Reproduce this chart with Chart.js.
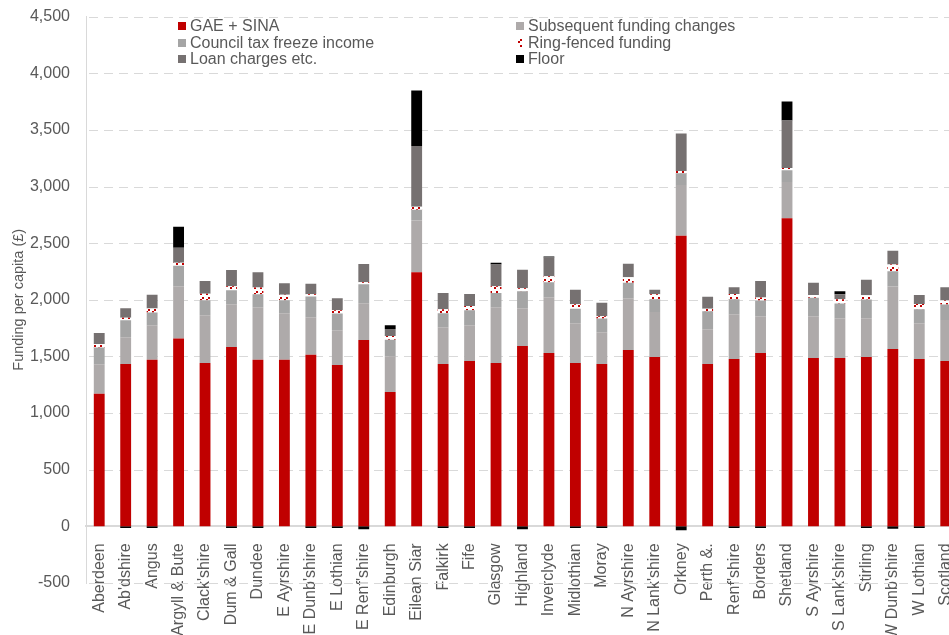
<!DOCTYPE html>
<html>
<head>
<meta charset="utf-8">
<title>Funding per capita</title>
<script src="https://cdn.jsdelivr.net/npm/chart.js@4.4.1/dist/chart.umd.min.js"></script>
<style>
    html, body { margin: 0; padding: 0; background: #fff; overflow: hidden; }
    #wrap { position: relative; width: 974px; height: 635px; overflow: hidden; }
    #fundingChart { position: absolute; left: 0; top: -9px; }
    #legend {
        position: absolute; left: 178px; top: 18px;
        display: grid; grid-template-columns: 338px auto;
        font: 16px "Liberation Sans", Arial, sans-serif; color: #595959; line-height: 16.5px;
    }
    #legend .sw { display: inline-block; width: 8px; height: 8px; margin-right: 4px; vertical-align: 1px; }
</style>
</head>
<body>
<div id="wrap">
    <canvas id="fundingChart" width="974" height="644"></canvas>
    <div id="legend"></div>
</div>
<script>
// Data
const categories = ['Aberdeen', "Ab'dshire", 'Angus', 'Argyll & Bute', "Clack'shire", 'Dum & Gall', 'Dundee',
    'E Ayrshire', "E Dunb'shire", 'E Lothian', "E Renf'shire", 'Edinburgh', 'Eilean Siar', 'Falkirk', 'Fife',
    'Glasgow', 'Highland', 'Inverclyde', 'Midlothian', 'Moray', 'N Ayrshire', "N Lank'shire", 'Orkney',
    'Perth &.', "Renf'shire", 'Borders', 'Shetland', 'S Ayrshire', "S Lank'shire", 'Stirling', "W Dunb'shire",
    'W Lothian', 'Scotland'];

const gaeSina      = [1170, 1434, 1470, 1658, 1443, 1584, 1470, 1470, 1514, 1425, 1646, 1185, 2244, 1433, 1460, 1442, 1592, 1530, 1442, 1433, 1557, 1495, 2565, 1433, 1477, 1530, 2719, 1486, 1486, 1495, 1566, 1477, 1460];
const subsequent   = [262, 236, 306, 462, 421, 377, 465, 412, 333, 307, 324, 316, 457, 324, 315, 492, 333, 493, 351, 280, 457, 398, 448, 307, 395, 325, 321, 369, 351, 342, 551, 316, 362];
const councilTax   = [148, 150, 112, 180, 133, 124, 115, 115, 182, 147, 168, 147, 94, 124, 133, 127, 151, 132, 129, 121, 136, 112, 104, 159, 133, 138, 103, 162, 130, 165, 136, 124, 136];
const ringFenced   = [29, 21, 35, 27, 56, 35, 59, 47, 21, 29, 18, 33, 27, 36, 38, 59, 26, 53, 39, 21, 50, 44, 20, 23, 47, 27, 21, 26, 38, 38, 59, 47, 35];
const loanCharges  = [97, 85, 121, 132, 112, 142, 135, 103, 91, 106, 159, 62, 536, 144, 106, 192, 163, 166, 127, 118, 118, 39, 331, 104, 59, 147, 419, 107, 44, 136, 121, 79, 118];
const floorFunding = [0, -15, -15, 186, 0, -15, -15, 0, -15, -15, -25, 32, 490, -15, -15, 14, -25, 8, -15, -15, 0, 0, -35, 0, -15, -15, 168, 0, 27, -15, -20, -15, 0];

const yTicks = { min: -500, max: 4500, step: 500 };
const textColor = '#595959';
const gridColor = '#D9D9D9';
const fontFamily = '"Liberation Sans", Arial, sans-serif';

// Red dashed hatch for ring-fenced funding
function makeHatchCanvas() {
    const c = document.createElement('canvas');
    c.width = 6; c.height = 6;
    const g = c.getContext('2d');
    g.fillStyle = '#fff';
    g.fillRect(0, 0, 6, 6);
    g.fillStyle = '#C00000';
    g.fillRect(4, 0, 2, 2);
    g.fillRect(2, 2, 2, 2);
    return c;
}
const hatchCanvas = makeHatchCanvas();
const hatch = hatchCanvas.getContext('2d').createPattern(hatchCanvas, 'repeat');

function series(label, data, color) {
    return {
        label: label,
        data: data,
        backgroundColor: color,
        borderWidth: 0,
        stack: 'funding',
        categoryPercentage: 1,
        barPercentage: 0.41
    };
}

const datasets = [
    series('GAE + SINA', gaeSina, '#C00000'),
    series('Subsequent funding changes', subsequent, '#AEAAAA'),
    series('Council tax freeze income', councilTax, '#A5A5A5'),
    series('Ring-fenced funding', ringFenced, hatch),
    series('Loan charges etc.', loanCharges, '#767171'),
    series('Floor', floorFunding, '#000000')
];

// Dashed horizontal gridlines (Excel style), dashes drawn one by one
const dashedGrid = {
    id: 'dashedGrid',
    beforeDatasetsDraw(chart) {
        const { ctx, chartArea, scales: { y } } = chart;
        const dash = 9, gap = 6;
        ctx.save();
        ctx.fillStyle = gridColor;
        y.ticks.forEach(t => {
            const py = Math.round(y.getPixelForValue(t.value));
            for (let x = chartArea.left + 3; x < chartArea.right; x += dash + gap) {
                ctx.fillRect(Math.round(x), py, Math.min(dash, chartArea.right - x), 1);
            }
        });
        ctx.restore();
    }
};

const ctx = document.getElementById('fundingChart').getContext('2d');
const chart = new Chart(ctx, {
    type: 'bar',
    data: { labels: categories, datasets: datasets },
    plugins: [dashedGrid],
    options: {
        responsive: false,
        animation: false,
        layout: { padding: { top: 7, left: 10, right: 4, bottom: 52 } },
        plugins: {
            legend: { display: false },
            tooltip: { enabled: false }
        },
        scales: {
            x: {
                stacked: true,
                position: { y: 0 },
                grid: { display: false },
                border: { display: true, color: gridColor, width: 2 },
                ticks: {
                    autoSkip: false,
                    minRotation: 90,
                    maxRotation: 90,
                    padding: 9,
                    color: textColor,
                    font: { family: fontFamily, size: 16 }
                }
            },
            y: {
                stacked: true,
                min: yTicks.min,
                max: yTicks.max,
                afterFit: scale => { scale.width = 76; },
                grid: { display: false, drawTicks: false },
                border: { display: true, color: gridColor, width: 1 },
                ticks: {
                    stepSize: yTicks.step,
                    padding: 16,
                    color: textColor,
                    font: { family: fontFamily, size: 16 },
                    callback: v => v.toLocaleString('en-US')
                },
                title: {
                    display: true,
                    text: 'Funding per capita (£)',
                    color: textColor,
                    font: { family: fontFamily, size: 14.5 },
                    padding: { top: 0, bottom: 0 }
                }
            }
        }
    }
});

// HTML legend, two columns
const legendEl = document.getElementById('legend');
chart.data.datasets.forEach(ds => {
    const item = document.createElement('div');
    const sw = document.createElement('span');
    sw.className = 'sw';
    if (typeof ds.backgroundColor === 'string') {
        sw.style.background = ds.backgroundColor;
    } else {
        sw.style.background = 'url(' + hatchCanvas.toDataURL() + ')';
    }
    item.appendChild(sw);
    item.appendChild(document.createTextNode(ds.label));
    legendEl.appendChild(item);
});
</script>
</body>
</html>
